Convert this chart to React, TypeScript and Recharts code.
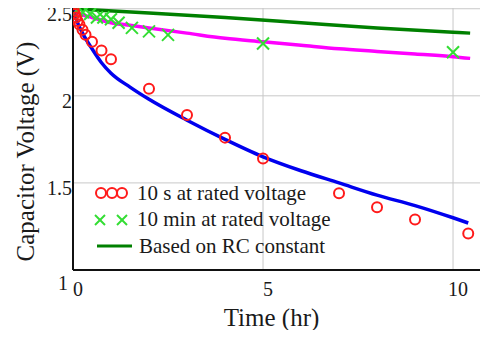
import {
  ComposedChart,
  Line,
  Scatter,
  XAxis,
  YAxis,
  CartesianGrid,
  Legend,
  Label,
} from "recharts";

// 10 s at rated voltage (measured, red circles)
const tenSecT = [0.02, 0.05, 0.08, 0.12, 0.17, 0.25, 0.33, 0.5, 0.75, 1.0, 2.0, 3.0, 4.0, 5.0, 7.0, 8.0, 9.0, 10.4];
const tenSecV = [2.49, 2.47, 2.45, 2.43, 2.41, 2.38, 2.35, 2.31, 2.26, 2.21, 2.04, 1.89, 1.76, 1.64, 1.44, 1.36, 1.29, 1.21];

// 10 min at rated voltage (measured, green crosses)
const tenMinT = [0.1, 0.26, 0.45, 0.63, 0.8, 1.0, 1.2, 1.55, 2.0, 2.5, 5.0, 10.0];
const tenMinV = [2.49, 2.48, 2.47, 2.45, 2.45, 2.44, 2.42, 2.39, 2.37, 2.35, 2.3, 2.25];

// fitted curve for the 10 s case (blue)
const fit10sT = [0, 0.1, 0.25, 0.5, 0.75, 1, 1.5, 2, 3, 4, 5, 6, 7, 8, 9, 10, 10.4];
const fit10sV = [2.5, 2.43, 2.36, 2.27, 2.19, 2.13, 2.05, 1.98, 1.86, 1.75, 1.65, 1.57, 1.5, 1.43, 1.37, 1.3, 1.27];

// fitted curve for the 10 min case (magenta)
const fit10mT = [0, 0.1, 0.25, 0.5, 1, 1.5, 2, 3, 4, 5, 6, 7, 8, 9, 10, 10.45];
const fit10mV = [2.5, 2.48, 2.465, 2.45, 2.42, 2.405, 2.39, 2.36, 2.33, 2.31, 2.29, 2.27, 2.255, 2.24, 2.225, 2.215];

// RC constant curve (dark green)
const rcT = [0, 2, 4, 6, 8, 10, 10.45];
const rcV = [2.5, 2.475, 2.45, 2.42, 2.39, 2.365, 2.36];

const xTicks = [0, 5, 10];
const yTicks = [1, 1.5, 2, 2.5];

const zip = (ts: number[], vs: number[]) => ts.map((t, i) => ({ t, v: vs[i] }));

const FONT = '"Times New Roman", "Liberation Serif", serif';
const TEXT = "#1a1a1a";
const RED = "#ff1a1a";
const GREEN_X = "#33dd33";
const DARK_GREEN = "#008000";
const serif = { fontFamily: FONT };

const Circle = (p: any) => (
  <circle cx={p.cx} cy={p.cy} r={5} fill="none" stroke={RED} strokeWidth={2} />
);

const Cross = (p: any) => {
  const s = 6;
  return (
    <g stroke={GREEN_X} strokeWidth={2}>
      <line x1={p.cx - s} y1={p.cy - s} x2={p.cx + s} y2={p.cy + s} />
      <line x1={p.cx - s} y1={p.cy + s} x2={p.cx + s} y2={p.cy - s} />
    </g>
  );
};

const XTick = ({ x, y, payload }: any) => (
  <text x={x + 5} y={y + 26} textAnchor="middle" style={serif} fontSize={20} fill={TEXT}>
    {payload.value}
  </text>
);

const YTick = ({ x, y, payload }: any) => {
  const low = payload.value === 1;
  return (
    <text
      x={low ? x - 5 : x - 1}
      y={y + (low ? 13 : 5)}
      textAnchor="end"
      dominantBaseline="central"
      style={serif}
      fontSize={20}
      fill={TEXT}
    >
      {payload.value}
    </text>
  );
};

const LegendBox = () => {
  const row: React.CSSProperties = { display: "flex", alignItems: "center", height: 26.5 };
  const txt: React.CSSProperties = { fontFamily: FONT, fontSize: 21, color: TEXT, whiteSpace: "nowrap" };
  return (
    <div>
      <div style={row}>
        <svg width={43} height={20}>
          {[7, 18, 28].map((cx) => (
            <circle key={cx} cx={cx} cy={10} r={5} fill="none" stroke={RED} strokeWidth={2} />
          ))}
        </svg>
        <span style={txt}>10 s at rated voltage</span>
      </div>
      <div style={row}>
        <svg width={43} height={20}>
          {[6, 28].map((cx) => (
            <g key={cx} stroke={GREEN_X} strokeWidth={2}>
              <line x1={cx - 5} y1={5} x2={cx + 5} y2={15} />
              <line x1={cx - 5} y1={15} x2={cx + 5} y2={5} />
            </g>
          ))}
        </svg>
        <span style={txt}>10 min at rated voltage</span>
      </div>
      <div style={row}>
        <svg width={45} height={20}>
          <line x1={3} y1={10} x2={38} y2={10} stroke={DARK_GREEN} strokeWidth={3} />
        </svg>
        <span style={txt}>Based on RC constant</span>
      </div>
    </div>
  );
};

export default function App() {
  return (
    <div style={{ margin: -8, width: 488, height: 338, background: "#fff" }}>
      <ComposedChart width={488} height={338} margin={{ top: 7, right: 0, bottom: 0, left: 0 }}>
        <CartesianGrid stroke="#c8c8c8" strokeWidth={1} />
        <XAxis
          dataKey="t"
          type="number"
          domain={[0, 10.92]}
          ticks={xTicks}
          allowDataOverflow
          height={68}
          tickSize={0}
          tickMargin={0}
          tick={<XTick />}
          axisLine={{ stroke: "#111", strokeWidth: 2 }}
        >
          <Label
            content={({ viewBox }: any) => (
              <text
                x={viewBox.x + viewBox.width / 2 - 9}
                y={viewBox.y + 56}
                textAnchor="middle"
                style={serif}
                fontSize={25}
                fill={TEXT}
              >
                Time (hr)
              </text>
            )}
          />
        </XAxis>
        <XAxis
          xAxisId="top"
          orientation="top"
          type="number"
          domain={[0, 10.92]}
          height={0}
          tick={false}
          tickLine={false}
          axisLine={{ stroke: "#222", strokeWidth: 2.5 }}
        />
        <YAxis
          type="number"
          domain={[1, 2.51]}
          ticks={yTicks}
          allowDataOverflow
          width={73}
          tickSize={0}
          tickMargin={0}
          tick={<YTick />}
          axisLine={{ stroke: "#111", strokeWidth: 2 }}
        >
          <Label
            content={({ viewBox }: any) => {
              const cx = 25;
              const cy = viewBox.y + viewBox.height / 2 + 13;
              return (
                <text
                  x={cx}
                  y={cy}
                  transform={`rotate(-90 ${cx} ${cy})`}
                  textAnchor="middle"
                  dominantBaseline="central"
                  style={serif}
                  fontSize={25}
                  fill={TEXT}
                >
                  Capacitor Voltage (V)
                </text>
              );
            }}
          />
        </YAxis>
        <Legend
          layout="vertical"
          align="center"
          verticalAlign="middle"
          content={<LegendBox />}
          wrapperStyle={{ position: "absolute", left: 94, top: 180, width: "auto" }}
        />
        <Line data={zip(rcT, rcV)} dataKey="v" type="monotone" stroke={DARK_GREEN} strokeWidth={3.5} dot={false} isAnimationActive={false} />
        <Line data={zip(fit10mT, fit10mV)} dataKey="v" type="monotone" stroke="#ff00ff" strokeWidth={3.5} dot={false} isAnimationActive={false} />
        <Line data={zip(fit10sT, fit10sV)} dataKey="v" type="monotone" stroke="#0000ee" strokeWidth={3.5} dot={false} isAnimationActive={false} />
        <Scatter data={zip(tenMinT, tenMinV)} dataKey="v" shape={<Cross />} isAnimationActive={false} />
        <Scatter data={zip(tenSecT, tenSecV)} dataKey="v" shape={<Circle />} isAnimationActive={false} />
      </ComposedChart>
    </div>
  );
}
